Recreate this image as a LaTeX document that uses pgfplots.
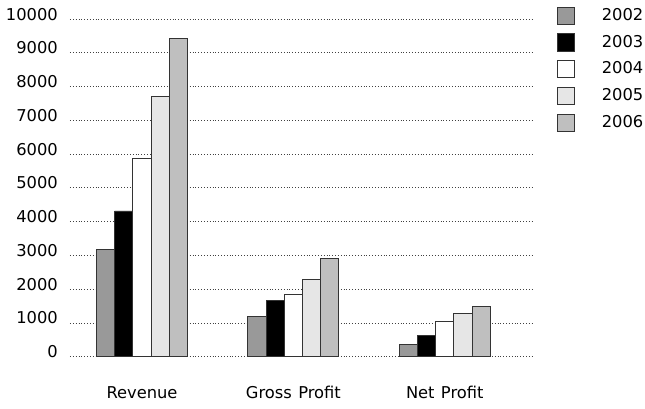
\documentclass[border=0pt]{standalone}
\usepackage{fontspec}
\setmainfont{DejaVu Sans}
\usepackage{pgfplots}
\pgfplotsset{compat=1.18}
\definecolor{c2002}{HTML}{999999}
\definecolor{c2003}{HTML}{000000}
\definecolor{c2004}{HTML}{FFFFFF}
\definecolor{c2005}{HTML}{E6E6E6}
\definecolor{c2006}{HTML}{BFBFBF}
\definecolor{edge}{HTML}{333333}
\begin{document}
\fontsize{16.3pt}{19pt}\selectfont
\begin{tikzpicture}
\begin{axis}[
 scale only axis, width=463pt, height=337.7pt,
 xmin=-0.4757, xmax=2.583, ymin=0, ymax=10000,
 ybar=0pt, bar width=18.2pt,
 axis line style={draw=none},
 major tick length=0pt,
 xtick={0,1,2},
 xticklabels={Revenue, Gross\hspace{0.39em}Profit, Net\hspace{0.39em}Profit},
 ytick={0,1000,...,10000},
 ymajorgrids,
 major grid style={black!75, line width=0.75pt, dash pattern=on 0.75pt off 2.1pt},
 scaled y ticks=false,
 /pgf/number format/1000 sep={},
 /pgf/number format/assume math mode=true,
 tick label style={font=\fontsize{16.3pt}{19pt}\selectfont},
 yticklabel style={anchor=base east, inner sep=0pt, xshift=-12pt, yshift=-1pt},
 xticklabel style={anchor=base, inner sep=0pt, yshift=-41.3pt},
 legend style={at={(rel axis cs:1.0512,1.0364)}, anchor=north west, draw=none, fill=none,
   inner sep=0pt, outer sep=0pt, row sep=8.6pt, column sep=27pt,
   nodes={inner sep=0pt, anchor=west, font=\fontsize{16.3pt}{19pt}\selectfont}},
 legend cell align=left,
 legend image code/.code={\draw[#1] (0pt,-8.6pt) rectangle (17.2pt,8.6pt);},
]
\addplot[fill=c2002, draw=edge, line width=0.9pt] coordinates {(0,3180) (1,1184) (2,367)};
\addplot[fill=c2003, draw=edge, line width=0.9pt] coordinates {(0,4315) (1,1658) (2,622)};
\addplot[fill=c2004, draw=edge, line width=0.9pt] coordinates {(0,5863) (1,1857) (2,1036)};
\addplot[fill=c2005, draw=edge, line width=0.9pt] coordinates {(0,7700) (1,2292) (2,1285)};
\addplot[fill=c2006, draw=edge, line width=0.9pt] coordinates {(0,9428) (1,2914) (2,1501)};
\legend{2002,2003,2004,2005,2006}
\end{axis}
\pgfresetboundingbox
\path[use as bounding box] (-70pt,-51.3pt) rectangle (575pt,356.7pt);
\end{tikzpicture}
\end{document}
